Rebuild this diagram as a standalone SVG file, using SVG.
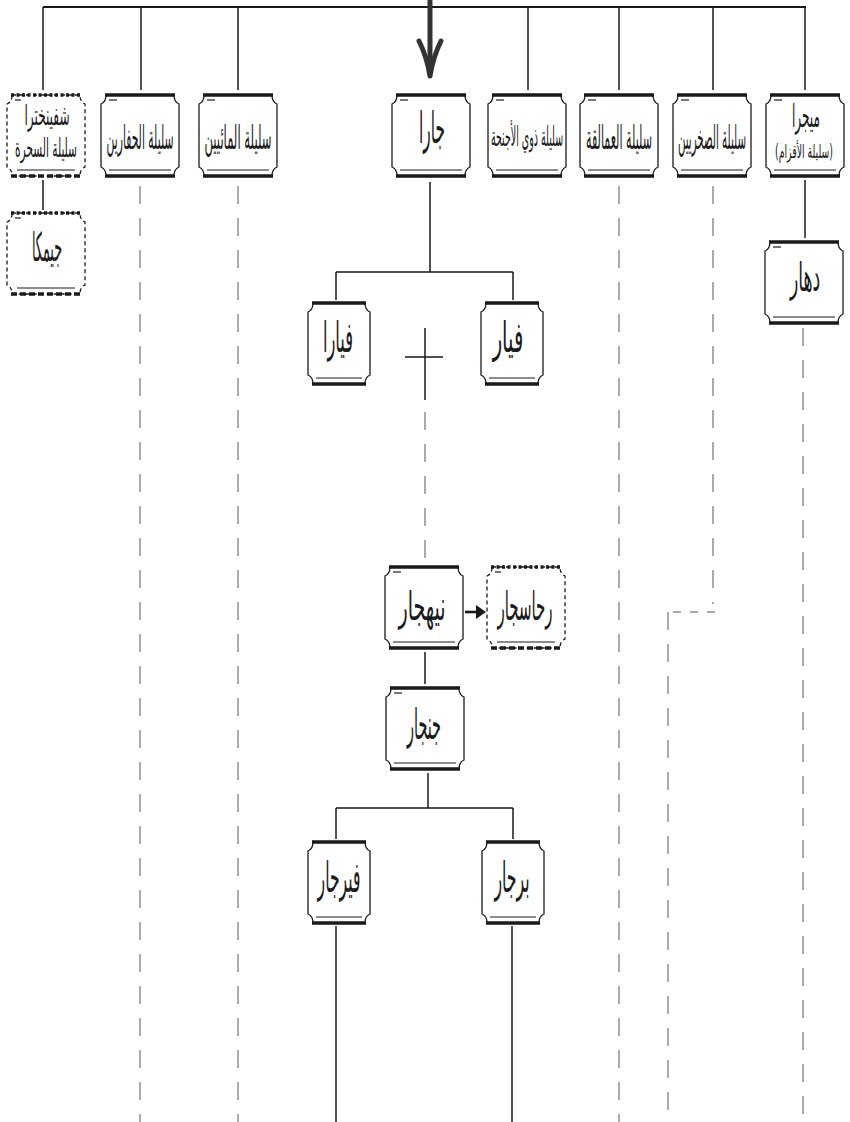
<svg xmlns="http://www.w3.org/2000/svg" xmlns:xlink="http://www.w3.org/1999/xlink" width="850" height="1122" viewBox="0 0 850 1122">
<style>
.bg{fill:#ffffff}
.ol{fill:#ffffff;stroke:#1a1a1a;stroke-width:1.3}
.thick{fill:none;stroke:#1a1a1a;stroke-width:3.5}
.thin{fill:none;stroke:#1a1a1a;stroke-width:1.1}
.tick{fill:none;stroke:#555;stroke-width:1.6}
.old{fill:#ffffff;stroke:#1a1a1a;stroke-width:1.3;stroke-dasharray:4 3}
.dot{fill:none;stroke:#1a1a1a;stroke-width:3.5;stroke-dasharray:3 2.5}
.dash{fill:none;stroke:#1a1a1a;stroke-width:3.5;stroke-dasharray:6 3}
.ln{fill:none;stroke:#1a1a1a;stroke-width:1.5}
.dl{fill:none;stroke:#555;stroke-width:1;stroke-dasharray:18 14}
.ds{fill:none;stroke:#555;stroke-width:1.2;stroke-dasharray:8 9}
.lbl{font-family:"DejaVu Sans Condensed","DejaVu Sans",sans-serif;fill:#1a1a1a;text-anchor:middle}
</style>
<defs>
<g id="box">
<path class="ol" d="M5,0 H73 Q73,7 78,9 V72 Q73,74 73,81 H5 Q5,74 0,72 V9 Q5,7 5,0 Z"/>
<path class="thick" d="M4,0 H74 M4,81 H74"/>
<path class="thin" d="M8,75 H70"/>
<path class="tick" d="M8,5 H16"/>
</g>
<g id="boxN">
<path class="ol" d="M5,0 H57 Q57,7 62,9 V72 Q57,74 57,81 H5 Q5,74 0,72 V9 Q5,7 5,0 Z"/>
<path class="thick" d="M4,0 H58 M4,81 H58"/>
<path class="thin" d="M8,75 H54"/>
</g>
<g id="boxD">
<path class="old" d="M5,0 H73 Q73,7 78,9 V72 Q73,74 73,81 H5 Q5,74 0,72 V9 Q5,7 5,0 Z"/>
<path class="dot" d="M4,0 H74"/>
<path class="dash" d="M4,81 H74"/>
<path class="thin" d="M10,75 H68"/>
<path class="tick" d="M8,5 H14"/>
</g>
</defs>
<rect class="bg" x="0" y="0" width="850" height="1122"/>
<g id="connectors">
<path d="M43,7 H806" fill="none" stroke="#1a1a1a" stroke-width="2.2"/>
<path class="ln" d="M43,7 V90 M141,7 V90 M238,7 V90 M528,7 V90 M619,7 V90 M713,7 V90 M805,7 V90"/>
<path d="M430,0 V70" fill="none" stroke="#333" stroke-width="5"/>
<path d="M419,41 Q427,57 430,76 Q433,57 441,41" fill="none" stroke="#333" stroke-width="5" stroke-linecap="round" stroke-linejoin="round"/>
<path class="ln" d="M43,180 V210"/>
<path class="ln" d="M805,180 V238"/>
<path class="dl" d="M140,186 V1122 M238,186 V1122 M619,186 V1122 M803,328 V1122"/>
<path class="dl" d="M713,186 V604"/>
<path class="ds" d="M715,612 H668"/>
<path class="dl" d="M668,612 V1122"/>
<path class="ln" d="M430,182 V272 M336,272 H513 M336,272 V300 M513,272 V300"/>
<path class="ln" d="M405,357 H443 M425,328 V400"/>
<path class="dl" d="M425,412 V562"/>
<path class="ln" d="M425,652 V684"/>
<path d="M465,612 H478" fill="none" stroke="#1a1a1a" stroke-width="2.6"/>
<polygon points="476,605 486,612 476,619" fill="#1a1a1a"/>
<path class="ln" d="M428,773 V808 M336,808 H513 M336,808 V839 M513,808 V839"/>
<path class="ln" d="M336,926 V1122 M512,926 V1122"/>
</g>
<g id="n-shifinkhtra">
<use xlink:href="#boxD" transform="translate(7,95)"/>
<text class="lbl" direction="rtl" transform="translate(47,125) scale(0.5,1)" font-size="28" textLength="90" lengthAdjust="spacingAndGlyphs">شفينخترا</text>
<text class="lbl" direction="rtl" transform="translate(46,157) scale(0.5,1)" font-size="26" textLength="124" lengthAdjust="spacingAndGlyphs">سليلة السحرة</text>
</g>
<g id="n-hafarin">
<use xlink:href="#box" transform="translate(101,95)"/>
<text class="lbl" direction="rtl" transform="translate(140,149) scale(0.36,1)" font-size="33" textLength="186" lengthAdjust="spacingAndGlyphs">سليلة الحفارين</text>
</g>
<g id="n-maiyin">
<use xlink:href="#box" transform="translate(199,95)"/>
<text class="lbl" direction="rtl" transform="translate(238,149) scale(0.36,1)" font-size="33" textLength="186" lengthAdjust="spacingAndGlyphs">سليلة المائيين</text>
</g>
<g id="n-jara">
<use xlink:href="#box" transform="translate(392,95)"/>
<text class="lbl" direction="rtl" transform="translate(432,143) scale(0.6,1)" font-size="44" textLength="43" lengthAdjust="spacingAndGlyphs">جارا</text>
</g>
<g id="n-ajniha">
<use xlink:href="#box" transform="translate(488,95)"/>
<text class="lbl" direction="rtl" transform="translate(527,146) scale(0.39,1)" font-size="27" textLength="185" lengthAdjust="spacingAndGlyphs">سليلة ذوي الأجنحة</text>
</g>
<g id="n-amaliqa">
<use xlink:href="#box" transform="translate(580,95)"/>
<text class="lbl" direction="rtl" transform="translate(619,149) scale(0.36,1)" font-size="33" textLength="183" lengthAdjust="spacingAndGlyphs">سليلة العمالقة</text>
</g>
<g id="n-sakhriyin">
<use xlink:href="#box" transform="translate(673,95)"/>
<text class="lbl" direction="rtl" transform="translate(712,149) scale(0.36,1)" font-size="33" textLength="189" lengthAdjust="spacingAndGlyphs">سليلة الصخريين</text>
</g>
<g id="n-megra">
<use xlink:href="#box" transform="translate(766,95)"/>
<text class="lbl" direction="rtl" transform="translate(806,127) scale(0.5,1)" font-size="32" textLength="56" lengthAdjust="spacingAndGlyphs">ميجرا</text>
<text class="lbl" direction="rtl" transform="translate(804,158) scale(0.5,1)" font-size="19" textLength="116" lengthAdjust="spacingAndGlyphs">(سليلة الأقزام)</text>
</g>
<g id="n-jimka">
<use xlink:href="#boxD" transform="translate(7,213)"/>
<text class="lbl" direction="rtl" transform="translate(47,261) scale(0.43,1)" font-size="40" textLength="70" lengthAdjust="spacingAndGlyphs">جيمكا</text>
</g>
<g id="n-dahar">
<use xlink:href="#box" transform="translate(765,242)"/>
<text class="lbl" direction="rtl" transform="translate(805,291) scale(0.54,1)" font-size="40" textLength="56" lengthAdjust="spacingAndGlyphs">دهار</text>
</g>
<g id="n-fiyara">
<use xlink:href="#boxN" transform="translate(308,303)"/>
<text class="lbl" direction="rtl" transform="translate(338,352) scale(0.45,1)" font-size="42" textLength="67" lengthAdjust="spacingAndGlyphs">فيارا</text>
</g>
<g id="n-fiyar">
<use xlink:href="#boxN" transform="translate(481,303)"/>
<text class="lbl" direction="rtl" transform="translate(508,352) scale(0.53,1)" font-size="42" textLength="58" lengthAdjust="spacingAndGlyphs">فيار</text>
</g>
<g id="n-niehjar">
<use xlink:href="#box" transform="translate(385,567)"/>
<text class="lbl" direction="rtl" transform="translate(422,620) scale(0.53,1)" font-size="40" textLength="89" lengthAdjust="spacingAndGlyphs">نيهجار</text>
</g>
<g id="n-rahsajar">
<use xlink:href="#boxD" transform="translate(487,567)"/>
<text class="lbl" direction="rtl" transform="translate(525,620) scale(0.53,1)" font-size="40" textLength="104" lengthAdjust="spacingAndGlyphs">رحاسجار</text>
</g>
<g id="n-jenjar">
<use xlink:href="#box" transform="translate(386,688)"/>
<text class="lbl" direction="rtl" transform="translate(424,739) scale(0.43,1)" font-size="42" textLength="79" lengthAdjust="spacingAndGlyphs">جنجار</text>
</g>
<g id="n-fiyrjar">
<use xlink:href="#boxN" transform="translate(308,842)"/>
<text class="lbl" direction="rtl" transform="translate(339,892) scale(0.47,1)" font-size="42" textLength="91" lengthAdjust="spacingAndGlyphs">فيرجار</text>
</g>
<g id="n-birjar">
<use xlink:href="#boxN" transform="translate(482,842)"/>
<text class="lbl" direction="rtl" transform="translate(512,892) scale(0.44,1)" font-size="42" textLength="80" lengthAdjust="spacingAndGlyphs">برجار</text>
</g>
</svg>
